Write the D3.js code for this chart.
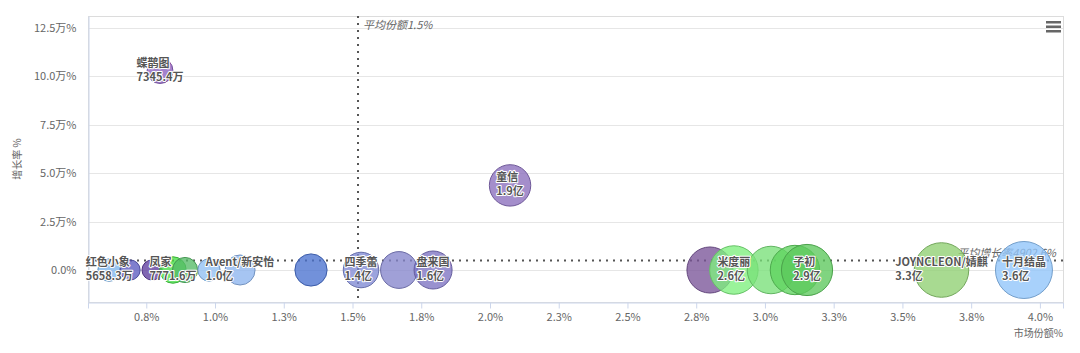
<!DOCTYPE html>
<html>
<head>
<meta charset="utf-8">
<script src="https://cdn.jsdelivr.net/npm/d3@7"></script>
<style>
  body { margin: 0; background: #fff; }
  svg { display: block; font-family: "Noto Sans CJK SC", "Noto Sans", sans-serif; }
</style>
</head>
<body>
<svg id="bubble" width="1080" height="353"></svg>
<script>
// brand names (null = label hidden by overlap in the original)
const brands = ['红色小象', null, null, '蝶鹊图', '凤家', null, null, 'Avent/新安怡', null, '四季蕾',
  null, '盘来国', '童信', null, '米度丽', null, null, '子初', 'JOYNCLEON/婧麒', '十月结晶']
// market share %
const share = [0.615, 0.691, 0.771, 0.80, 0.847, 0.891, 0.978, 1.091, 1.349, 1.531,
  1.669, 1.793, 2.073, 2.80, 2.887, 3.022, 3.109, 3.153, 3.642, 3.942]
// growth rate %
const growth = [0, 0, 0, 103000, 0, 0, 0, 0, 0, 0,
  0, 0, 43700, 0, 0, 0, 0, 0, 0, 0]
// sales, in 万
const sales = [5658.3, 4500, 4500, 7345.4, 7771.6, 7000, 5500, 10000, 11500, 14000,
  15000, 16000, 19000, 23500, 26000, 25000, 27000, 29000, 33000, 36000]
const colors = ['#7cb5ec', '#5b5bc0', '#5e3c9e', '#8b5fbf', '#44dd44', '#55bb66', '#90bff2', '#8db5ee', '#4a72d0', '#7f89d4',
  '#8585cc', '#7c72c2', '#8a6ebd', '#7a5599', '#7ef07e', '#79e079', '#5fd35f', '#5cc85c', '#8fcf72', '#8fc4fa']

const xTicks = [0.75, 1.0, 1.25, 1.5, 1.75, 2.0, 2.25, 2.5, 2.75, 3.0, 3.25, 3.5, 3.75, 4.0]
const yTicks = [0, 25000, 50000, 75000, 100000, 125000]
const avgShare = 1.52
const avgGrowth = 4902.6

const svg = d3.select('#bubble')
const width = 1080
const height = 353
const margin = { top: 16, right: 17, bottom: 51, left: 88 }
const innerW = width - margin.left - margin.right
const innerH = height - margin.top - margin.bottom

const x = d3.scaleLinear().domain([0.538, 4.084]).range([0, innerW])
const y = d3.scaleLinear().domain([-16530, 131200]).range([innerH, 0])
const r = d3.scaleSqrt().domain([0, 36000]).range([0, 28.5])

const g = svg.append('g').attr('transform', `translate(${margin.left},${margin.top})`)

// grid
g.append('g')
  .selectAll('line')
  .data(yTicks)
  .enter()
  .append('line')
  .attr('x1', 0).attr('x2', innerW)
  .attr('y1', d => Math.round(y(d)) + 0.5).attr('y2', d => Math.round(y(d)) + 0.5)
  .attr('stroke', '#e6e6e6')

// plot border
g.append('rect')
  .attr('x', 0.5).attr('y', 0.5)
  .attr('width', innerW).attr('height', innerH)
  .attr('fill', 'none').attr('stroke', '#dcdcdc')

// x axis
const xAxis = g.append('g')
  .attr('transform', `translate(0,${innerH + 0.5})`)
  .call(d3.axisBottom(x).tickValues(xTicks).tickSize(6).tickPadding(5).tickFormat(d => d3.format('.1f')(d) + '%'))
xAxis.select('.domain').attr('stroke', '#ccd6eb')
xAxis.selectAll('.tick line').attr('stroke', '#ccd6eb')
xAxis.selectAll('text').attr('fill', '#666').attr('font-size', 11).attr('font-family', '"Noto Sans CJK SC", sans-serif')

// y axis
const yAxis = g.append('g')
  .attr('transform', 'translate(0.5,0)')
  .call(d3.axisLeft(y).tickValues(yTicks).tickSize(0).tickPadding(12)
    .tickFormat(d => d === 0 ? '0.0%' : (d / 10000).toFixed(1) + '万%'))
yAxis.select('.domain').attr('stroke', '#ccd6eb')
yAxis.selectAll('text').attr('fill', '#666').attr('font-size', 11).attr('font-family', '"Noto Sans CJK SC", sans-serif')

// axis titles
svg.append('text')
  .attr('transform', `translate(21,${margin.top + innerH / 2}) rotate(-90)`)
  .attr('text-anchor', 'middle')
  .attr('font-size', 10)
  .attr('fill', '#666')
  .text('增长率 %')

svg.append('text')
  .attr('x', margin.left + innerW)
  .attr('y', 337)
  .attr('text-anchor', 'end')
  .attr('font-size', 10)
  .attr('fill', '#666')
  .text('市场份额%')

// average lines
g.append('line')
  .attr('x1', x(avgShare)).attr('x2', x(avgShare))
  .attr('y1', 0).attr('y2', innerH)
  .attr('stroke', '#555').attr('stroke-width', 2).attr('stroke-dasharray', '2,5')
g.append('line')
  .attr('x1', 0).attr('x2', innerW)
  .attr('y1', y(avgGrowth)).attr('y2', y(avgGrowth))
  .attr('stroke', '#555').attr('stroke-width', 2).attr('stroke-dasharray', '2,5')

g.append('text')
  .attr('x', x(avgShare) + 5)
  .attr('y', 13)
  .attr('font-size', 11)
  .attr('font-style', 'italic')
  .attr('fill', '#666')
  .text('平均份额' + avgShare.toFixed(1) + '%')

g.append('text')
  .attr('x', innerW - 7)
  .attr('y', y(avgGrowth) - 4)
  .attr('text-anchor', 'end')
  .attr('font-size', 11)
  .attr('font-style', 'italic')
  .attr('fill', '#666')
  .text('平均增长率' + avgGrowth.toFixed(1) + '%')

// bubbles
const points = brands.map((b, i) => ({ brand: b, share: share[i], growth: growth[i], sales: sales[i], color: colors[i] }))

g.append('g')
  .selectAll('circle')
  .data(points)
  .enter()
  .append('circle')
  .attr('cx', d => x(d.share))
  .attr('cy', d => y(d.growth))
  .attr('r', d => r(d.sales))
  .attr('fill', d => d.color)
  .attr('fill-opacity', 0.78)
  .attr('stroke', d => d3.color(d.color).darker(0.6))
  .attr('stroke-width', 1)

// data labels
const fmtSales = v => v >= 10000 ? (v / 10000).toFixed(1) + '亿' : v.toFixed(1) + '万'
const labels = g.append('g')
points.filter(d => d.brand).forEach(d => {
  const cx = x(d.share)
  const cy = y(d.growth)
  const lab = labels.append('g')
  const lines = [d.brand, fmtSales(d.sales)]
  const texts = lines.map((t, i) => lab.append('text')
    .attr('y', cy - 4 + i * 14)
    .attr('font-size', 11)
    .attr('font-weight', 'bold')
    .attr('fill', '#555')
    .attr('stroke', '#fff')
    .attr('stroke-width', 2)
    .attr('stroke-linejoin', 'round')
    .attr('paint-order', 'stroke')
    .text(t))
  const w = d3.max(texts, t => t.node().getComputedTextLength())
  texts.forEach(t => t.attr('x', cx - w / 2))
})

// menu icon
const menu = svg.append('g').attr('transform', 'translate(1046,21)')
;[0, 4.5, 9].forEach(dy => {
  menu.append('rect').attr('x', 0).attr('y', dy).attr('width', 15).attr('height', 2.5).attr('fill', '#666')
})
</script>
</body>
</html>
